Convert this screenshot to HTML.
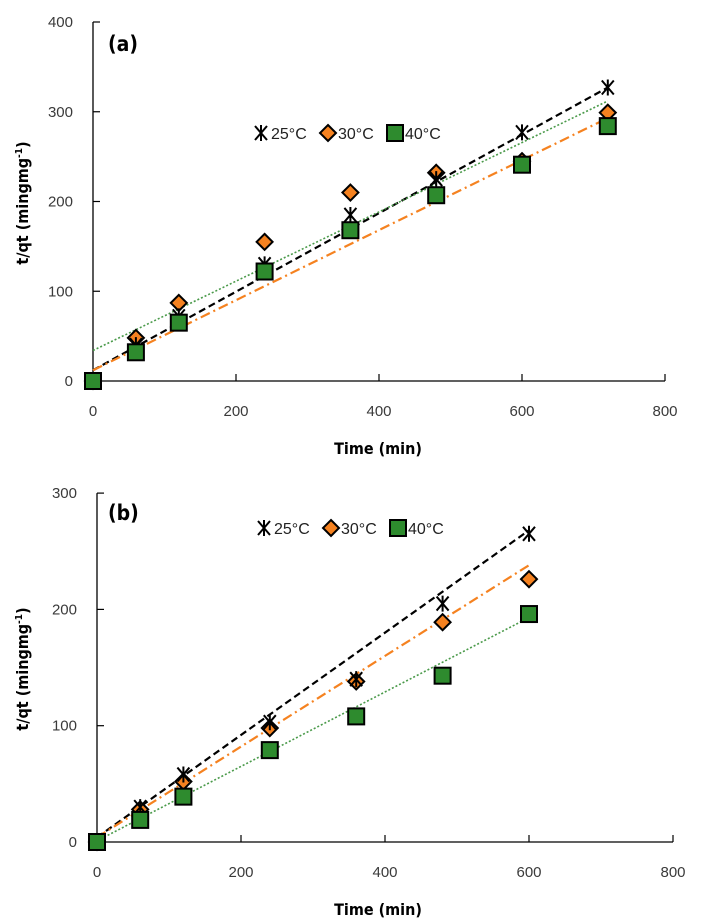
<!DOCTYPE html>
<html><head><meta charset="utf-8"><style>
body{margin:0;background:#fff;}
svg{display:block;font-family:"DejaVu Sans","Liberation Sans",sans-serif;}
.tick{font-size:15px;fill:#3a3a3a;font-family:"Liberation Sans",sans-serif;}
.ttl{font-size:16px;font-weight:bold;fill:#000;font-family:"DejaVu Sans Condensed","DejaVu Sans",sans-serif;}
.leg{font-size:16px;fill:#222;font-family:"Liberation Sans",sans-serif;}
</style></head><body>
<svg id="chart" width="708" height="923" viewBox="0 0 708 923"></svg>
<script>
const times = [0, 60, 120, 240, 360, 480, 600, 720];
const xTicks = [0, 200, 400, 600, 800];
const seriesLabels = ["25°C", "30°C", "40°C"];
// panel (a)
const a25 = [0, 40, 72, 130, 185, 225, 277, 327];
const a30 = [0, 48, 87, 155, 210, 232, 245, 299];
const a40 = [0, 32, 65, 122, 168, 207, 241, 284];
const aFit25 = [12, 327];
const aFit30 = [12, 293];
const aFit40 = [34, 312];
const aYTicks = [0, 100, 200, 300, 400];
// panel (b)
const timesB = [0, 60, 120, 240, 360, 480, 600];
const b25 = [0, 30, 58, 103, 140, 205, 265];
const b30 = [0, 28, 52, 98, 138, 189, 226];
const b40 = [0, 19, 39, 79, 108, 143, 196];
const bFit25 = [4, 268];
const bFit30 = [4, 238];
const bFit40 = [1, 193];
const bYTicks = [0, 100, 200, 300];

const NS = "http://www.w3.org/2000/svg";
const svg = document.getElementById("chart");
function mk(tag, attrs, parent) {
  const e = document.createElementNS(NS, tag);
  for (const k in attrs) e.setAttribute(k, attrs[k]);
  (parent || svg).appendChild(e);
  return e;
}

function marker(g, kind, cx, cy) {
  if (kind === 0) {
    const p = mk("path", {d: `M${cx-6},${cy-7}L${cx+6},${cy+7}M${cx+6},${cy-7}L${cx-6},${cy+7}M${cx},${cy-8}V${cy+8}`, stroke: "#000", "stroke-width": 2, fill: "none"}, g);
    
    
  } else if (kind === 1) {
    const p = mk("path", {d: `M${cx},${cy-8}L${cx+8},${cy}L${cx},${cy+8}L${cx-8},${cy}Z`, fill: "#f58220", stroke: "#000", "stroke-width": 2}, g);
    
    
  } else {
    const p = mk("rect", {x: cx-8, y: cy-8, width: 16, height: 16, fill: "#2e8b2e", stroke: "#000", "stroke-width": 2}, g);
    
    
  }
}

function panel(o) {
  const g = mk("g", {});
  
  
  const X = v => o.x0 + v * o.xs;
  const Y = v => o.y0 - v * o.ys;
  const yMax = o.yTicks[o.yTicks.length - 1];
  const ax = mk("path", {d: `M${X(0)},${Y(yMax)}V${Y(0)}H${X(800)}`, stroke: "#000", "stroke-width": 1.3, fill: "none"}, g);
  
  
  o.yTicks.forEach(v => {
    mk("line", {x1: X(0), x2: X(0) + 7, y1: Y(v), y2: Y(v), stroke: "#000", "stroke-width": 1.2}, g);
    const t = mk("text", {x: X(0) - 20, y: Y(v) + 5, "text-anchor": "end", class: "tick"}, g);
    t.textContent = v;
    
    
  });
  xTicks.forEach(v => {
    if (v > 0) mk("line", {x1: X(v), x2: X(v), y1: Y(0), y2: Y(0) - 7, stroke: "#000", "stroke-width": 1.2}, g);
    const t = mk("text", {x: X(v), y: Y(0) + 35, "text-anchor": "middle", class: "tick"}, g);
    t.textContent = v;
    
    
  });
  const xt = mk("text", {x: 378, y: Y(0) + 73, "text-anchor": "middle", class: "ttl"}, g);
  xt.textContent = "Time (min)";
  
  
  const yt = mk("text", {x: 0, y: 0, transform: `translate(28,${o.ytc}) rotate(-90)`, "text-anchor": "middle", class: "ttl"}, g);
  yt.innerHTML = 't/qt (mingmg<tspan dy="-6" font-size="10">-1</tspan><tspan dy="6">)</tspan>';
  
  
  const pl = mk("text", {x: 108, y: o.labY, class: "ttl"}, g);
  pl.setAttribute("style", "font-size:21px");
  pl.textContent = o.label;
  
  
  const styles = [
    {stroke: "#000", dash: "7,4", w: 2.2},
    {stroke: "#f58220", dash: "10,4,2,4", w: 2.2},
    {stroke: "#4a9a4a", dash: "2,2", w: 1.6}
  ];
  o.fits.forEach((f, i) => {
    const l = mk("line", {x1: X(0), y1: Y(f[0]), x2: X(o.tEnd), y2: Y(f[1]), stroke: styles[i].stroke, "stroke-width": styles[i].w, "stroke-dasharray": styles[i].dash}, g);
    
    
  });
  [1, 0, 2].forEach(i => {
    o.series[i].forEach((v, j) => marker(g, i, X(o.times[j]), Y(v)));
  });
  let lx = o.legX;
  seriesLabels.forEach((s, i) => {
    marker(g, i, lx + 6, o.legY - 5);
    const t = mk("text", {x: lx + 16, y: o.legY + 1, class: "leg"}, g);
    t.textContent = s;
    
    
    lx += 67;
  });
}

panel({name: "panel-a", x0: 93, xs: 0.715, y0: 381, ys: 0.8975, yTicks: aYTicks, times: times, tEnd: 720,
  series: [a25, a30, a40], fits: [aFit25, aFit30, aFit40], label: "(a)", labY: 51, ytc: 203, legX: 255, legY: 138});
panel({name: "panel-b", x0: 97, xs: 0.72, y0: 842, ys: 1.163, yTicks: bYTicks, times: timesB, tEnd: 600,
  series: [b25, b30, b40], fits: [bFit25, bFit30, bFit40], label: "(b)", labY: 520, ytc: 669, legX: 258, legY: 533});
</script>
</body></html>
